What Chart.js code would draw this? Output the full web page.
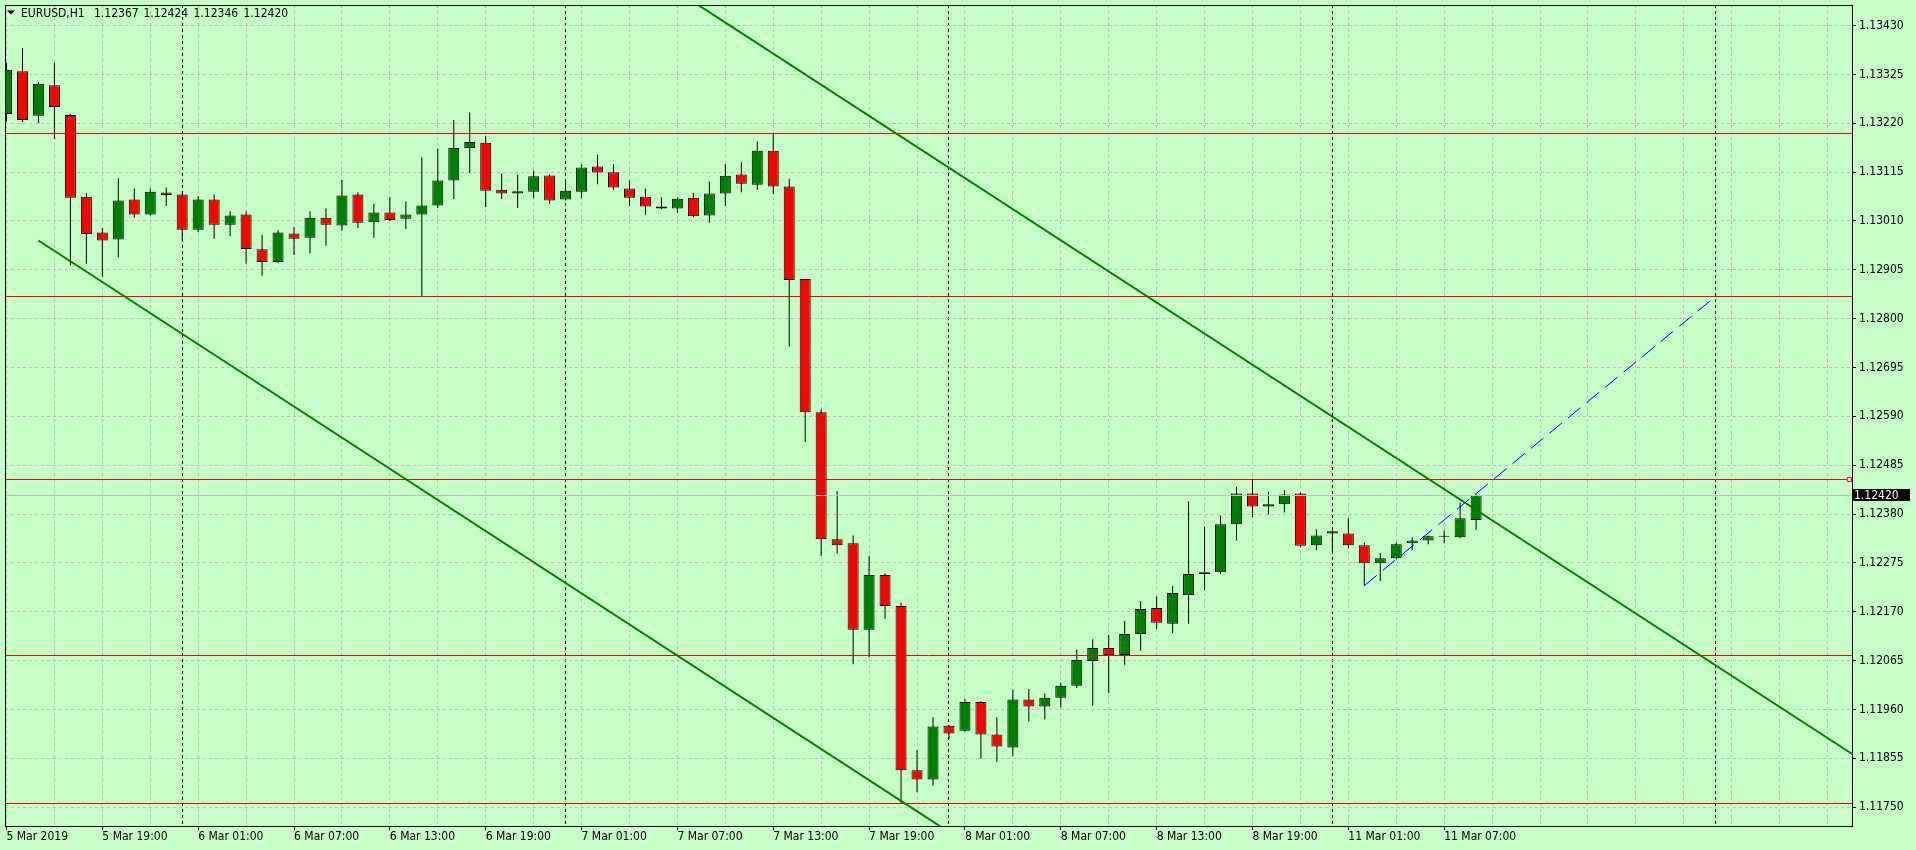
<!DOCTYPE html>
<html>
<head>
<meta charset="utf-8">
<title>EURUSD,H1</title>
<script src="https://cdn.jsdelivr.net/npm/chart.js@4.4.1/dist/chart.umd.min.js"></script>
<style>
  html, body { margin: 0; padding: 0; background: rgb(198,255,198); overflow: hidden; }
</style>
</head>
<body>
<canvas id="EurUsd" width="1916" height="850"></canvas>
<script>
const symbol = 'EURUSD,H1';

// H1 bars, bar 0 = 5 Mar 2019 13:00
const opens = [
  1.13240, 1.13332, 1.13236, 1.13302, 1.13238, 1.13062, 1.12985, 1.12970, 1.13056, 1.13024,
  1.13071, 1.13067, 1.12991, 1.13056, 1.13002, 1.13024, 1.12949, 1.12922, 1.12983, 1.12974,
  1.13017, 1.13000, 1.13067, 1.13007, 1.13028, 1.13015, 1.13024, 1.13043, 1.13097, 1.13167,
  1.13178, 1.13077, 1.13069, 1.13073, 1.13108, 1.13056, 1.13073, 1.13127, 1.13115, 1.13080,
  1.13062, 1.13041, 1.13037, 1.13060, 1.13022, 1.13069, 1.13110, 1.13088, 1.13161, 1.13084,
  1.12885, 1.12599, 1.12326, 1.12317, 1.12131, 1.12249, 1.12182, 1.11829, 1.11809, 1.11925,
  1.11914, 1.11976, 1.11906, 1.11878, 1.11981, 1.11966, 1.11985, 1.12011, 1.12064, 1.12092,
  1.12077, 1.12122, 1.12178, 1.12144, 1.12206, 1.12251, 1.12255, 1.12358, 1.12424, 1.12396,
  1.12401, 1.12424, 1.12313, 1.12343, 1.12338, 1.12313, 1.12274, 1.12285, 1.12317, 1.12323,
  1.12331, 1.12330, 1.12367
];
const highs = [
  1.13350, 1.13382, 1.13309, 1.13350, 1.13240, 1.13070, 1.12995, 1.13102, 1.13080, 1.13080,
  1.13082, 1.13074, 1.13063, 1.13067, 1.13031, 1.13031, 1.12980, 1.12990, 1.12997, 1.13031,
  1.13037, 1.13098, 1.13072, 1.13047, 1.13061, 1.13052, 1.13147, 1.13166, 1.13227, 1.13243,
  1.13193, 1.13112, 1.13109, 1.13118, 1.13110, 1.13093, 1.13132, 1.13153, 1.13132, 1.13097,
  1.13080, 1.13061, 1.13060, 1.13070, 1.13095, 1.13132, 1.13136, 1.13181, 1.13198, 1.13101,
  1.12885, 1.12605, 1.12429, 1.12334, 1.12290, 1.12252, 1.12189, 1.11872, 1.11943, 1.11927,
  1.11983, 1.11978, 1.11943, 1.12002, 1.12004, 1.11994, 1.12017, 1.12088, 1.12111, 1.12120,
  1.12150, 1.12193, 1.12203, 1.12225, 1.12407, 1.12353, 1.12377, 1.12439, 1.12456, 1.12428,
  1.12431, 1.12426, 1.12347, 1.12345, 1.12371, 1.12319, 1.12296, 1.12319, 1.12330, 1.12334,
  1.12345, 1.12405, 1.12424
];
const lows = [
  1.13224, 1.13223, 1.13220, 1.13186, 1.12915, 1.12918, 1.12890, 1.12932, 1.13017, 1.13022,
  1.13042, 1.12967, 1.12986, 1.12972, 1.12977, 1.12918, 1.12892, 1.12920, 1.12937, 1.12940,
  1.12957, 1.12989, 1.12995, 1.12974, 1.13010, 1.12993, 1.12848, 1.13038, 1.13057, 1.13113,
  1.13040, 1.13057, 1.13038, 1.13059, 1.13047, 1.13054, 1.13059, 1.13089, 1.13077, 1.13042,
  1.13023, 1.13036, 1.13027, 1.13018, 1.13006, 1.13042, 1.13072, 1.13077, 1.13068, 1.12740,
  1.12535, 1.12290, 1.12295, 1.12057, 1.12072, 1.12155, 1.11758, 1.11782, 1.11796, 1.11897,
  1.11912, 1.11854, 1.11847, 1.11860, 1.11934, 1.11938, 1.11964, 1.12006, 1.11968, 1.11995,
  1.12056, 1.12086, 1.12133, 1.12124, 1.12144, 1.12216, 1.12251, 1.12323, 1.12373, 1.12379,
  1.12383, 1.12308, 1.12302, 1.12300, 1.12306, 1.12226, 1.12236, 1.12283, 1.12302, 1.12315,
  1.12317, 1.12328, 1.12346
];
const closes = [
  1.13335, 1.13227, 1.13305, 1.13255, 1.13060, 1.12982, 1.12968, 1.13054, 1.13024, 1.13073,
  1.13066, 1.12991, 1.13056, 1.13002, 1.13022, 1.12950, 1.12922, 1.12985, 1.12972, 1.13017,
  1.13002, 1.13065, 1.13006, 1.13028, 1.13012, 1.13024, 1.13043, 1.13097, 1.13167, 1.13180,
  1.13075, 1.13069, 1.13074, 1.13106, 1.13054, 1.13075, 1.13125, 1.13114, 1.13082, 1.13060,
  1.13041, 1.13037, 1.13058, 1.13020, 1.13069, 1.13107, 1.13090, 1.13161, 1.13084, 1.12883,
  1.12599, 1.12326, 1.12313, 1.12131, 1.12249, 1.12182, 1.11829, 1.11809, 1.11923, 1.11908,
  1.11976, 1.11906, 1.11880, 1.11981, 1.11966, 1.11985, 1.12011, 1.12066, 1.12092, 1.12077,
  1.12122, 1.12176, 1.12146, 1.12210, 1.12251, 1.12255, 1.12358, 1.12424, 1.12396, 1.12401,
  1.12422, 1.12312, 1.12334, 1.12338, 1.12313, 1.12274, 1.12285, 1.12315, 1.12323, 1.12332,
  1.12331, 1.12371, 1.12420
];

// time axis labels (bar index -> text)
const tickBars = [0, 6, 12, 18, 24, 30, 36, 42, 48, 54, 60, 66, 72, 78, 84, 90];
const tickLabels = [
  '5 Mar 2019', '5 Mar 19:00', '6 Mar 01:00', '6 Mar 07:00', '6 Mar 13:00', '6 Mar 19:00',
  '7 Mar 01:00', '7 Mar 07:00', '7 Mar 13:00', '7 Mar 19:00', '8 Mar 01:00', '8 Mar 07:00',
  '8 Mar 13:00', '8 Mar 19:00', '11 Mar 01:00', '11 Mar 07:00'
];
const daySeparators = [11, 35, 59, 83, 107];

const priceTicks = [
  1.11750, 1.11855, 1.11960, 1.12065, 1.12170, 1.12275, 1.12380, 1.12485, 1.12590,
  1.12695, 1.12800, 1.12905, 1.13010, 1.13115, 1.13220, 1.13325, 1.13430
];

// drawn objects
const redLevels = [1.13197, 1.12847, 1.12454, 1.12075, 1.11757];
const selectedLevel = 1.12454;
const channelLower = [[2, 1.12968], [60, 1.11674]];
const channelUpper = [[40, 1.13548], [116, 1.11854]];
const blueLine = [[85, 1.12226], [107, 1.12848]];

// view window
const X_MIN = -0.09375, X_MAX = 115.53125;
const Y_MIN = 1.117093, Y_MAX = 1.134743;

const BG = 'rgb(198,255,198)';
const GRID = 'rgb(196,186,200)';
const BULL = '#008000';
const BEAR = '#FF0000';
const FONT_FAMILY = "'DejaVu Sans Condensed', 'DejaVu Sans', sans-serif";

Chart.defaults.font.family = FONT_FAMILY;
Chart.defaults.font.size = 12;
Chart.defaults.color = '#000';

const xGridTicks = [];
for (let i = 0; i <= 114; i += 3) xGridTicks.push(i);
daySeparators.forEach(d => xGridTicks.push(d));
xGridTicks.sort((a, b) => a - b);

const toPoints = line => line.map(p => ({ x: p[0], y: p[1] }));
const hLine = y => [{ x: X_MIN, y }, { x: X_MAX, y }];

// keep 1px horizontal lines on a pixel row, like the terminal does
const crispLines = {
  id: 'crispLines',
  beforeDatasetDraw(chart, args) {
    const ds = chart.data.datasets[args.index];
    if (!ds.crispY) return;
    const y = chart.scales.y.getPixelForValue(ds.data[0].y);
    chart.ctx.save();
    chart.ctx.translate(0, Math.round(y - 0.5) + 0.5 - y);
  },
  afterDatasetDraw(chart, args) {
    if (chart.data.datasets[args.index].crispY) chart.ctx.restore();
  }
};

const mt4Chrome = {
  id: 'mt4Chrome',
  beforeDraw(chart) {
    const c = chart.ctx;
    c.save();
    c.fillStyle = BG;
    c.fillRect(0, 0, chart.width, chart.height);
    c.restore();
  },
  afterDraw(chart) {
    const c = chart.ctx;
    const a = chart.chartArea;
    const last = closes.length - 1;
    c.save();
    c.strokeStyle = '#000';
    c.lineWidth = 1;
    c.strokeRect(a.left + 0.5, a.top + 0.5, a.right - a.left, a.bottom - a.top);

    // bid price tag on the scale
    const py = Math.round(chart.scales.y.getPixelForValue(closes[last]));
    c.fillStyle = '#000';
    c.fillRect(a.right + 1, py - 6, 57, 12);
    c.fillStyle = '#fff';
    c.font = '12px ' + FONT_FAMILY;
    c.textBaseline = 'middle';
    c.fillText(closes[last].toFixed(5), a.right + 2, py + 0.5);

    // header: symbol + OHLC of the last bar
    c.fillStyle = '#000';
    c.beginPath();
    c.moveTo(7, 10.5); c.lineTo(15, 10.5); c.lineTo(11, 14.5);
    c.closePath();
    c.fill();
    c.textBaseline = 'alphabetic';
    const header = [symbol, opens[last].toFixed(5), highs[last].toFixed(5), lows[last].toFixed(5), closes[last].toFixed(5)];
    const hx = [21, 94, 143.5, 193.5, 243.5];
    header.forEach((t, i) => c.fillText(t, hx[i], 17));
    c.restore();
  }
};

const lineSet = (data, color, width, order, extra) => Object.assign({
  type: 'line', data, borderColor: color, borderWidth: width,
  pointRadius: 0, fill: false, tension: 0, clip: 0, order
}, extra || {});

const ctx = document.querySelector('#EurUsd');

const EurUsd = new Chart(ctx, {
  type: 'bar',
  data: {
    datasets: [
      {
        label: 'wicks',
        data: opens.map((_, i) => ({ x: i, y: [lows[i], highs[i]] })),
        backgroundColor: '#000',
        borderWidth: 0,
        barThickness: 1,
        grouped: false,
        inflateAmount: 0,
        order: 6
      },
      {
        label: 'bodies',
        data: opens.map((o, i) => ({ x: i, y: [o, closes[i]] })),
        backgroundColor: c => (closes[c.dataIndex] >= opens[c.dataIndex] ? BULL : BEAR),
        borderColor: '#000',
        borderWidth: 1,
        borderSkipped: false,
        barThickness: 11,
        minBarLength: 1,
        grouped: false,
        inflateAmount: 0,
        order: 5
      },
      lineSet(hLine(closes[closes.length - 1]), '#C0C0C0', 1, 4, { crispY: true }),
      ...redLevels.map(lv => lineSet(hLine(lv), BEAR, 1, 3, { crispY: true })),
      lineSet(toPoints(channelLower), BULL, 2, 2),
      lineSet(toPoints(channelUpper), BULL, 2, 2),
      lineSet(toPoints(blueLine), '#0000FF', 1, 1, { borderDash: [16, 8] }),
      lineSet([{ x: X_MAX - 0.17, y: selectedLevel }], BEAR, 1, 0, {
        crispY: true, showLine: false, pointRadius: 2.9, pointStyle: 'rect',
        pointBorderColor: BEAR, pointBackgroundColor: '#fff', pointBorderWidth: 1
      })
    ]
  },
  options: {
    responsive: false,
    animation: false,
    events: [],
    layout: { padding: { left: 2, top: 2, right: 0, bottom: 0 } },
    plugins: { legend: { display: false }, tooltip: { enabled: false } },
    scales: {
      x: {
        type: 'linear',
        min: X_MIN,
        max: X_MAX,
        offset: false,
        afterBuildTicks: axis => { axis.ticks = xGridTicks.map(v => ({ value: v })); },
        afterFit: axis => { axis.height = 24; axis.paddingLeft = 0; axis.paddingRight = 0; },
        grid: {
          offset: false,
          color: c => (daySeparators.includes(c.tick.value) ? '#000' : GRID),
          tickColor: c => (tickBars.includes(c.tick.value) ? '#000' : 'rgba(0,0,0,0)'),
          tickLength: 4
        },
        border: { color: '#000', dash: [3, 3] },
        ticks: {
          autoSkip: false, maxRotation: 0, minRotation: 0, align: 'start', padding: 0,
          callback: v => {
            const i = tickBars.indexOf(v);
            return i >= 0 ? tickLabels[i] : '';
          }
        }
      },
      y: {
        type: 'linear',
        position: 'right',
        min: Y_MIN,
        max: Y_MAX,
        beginAtZero: false,
        afterBuildTicks: axis => { axis.ticks = priceTicks.map(v => ({ value: v })); },
        afterFit: axis => { axis.width = 64; axis.paddingTop = 0; axis.paddingBottom = 0; },
        grid: { color: GRID, tickColor: '#000', tickLength: 4 },
        border: { color: '#000', dash: [3, 3] },
        ticks: { padding: 3, callback: v => v.toFixed(5) }
      }
    }
  },
  plugins: [mt4Chrome, crispLines]
});
</script>
</body>
</html>
